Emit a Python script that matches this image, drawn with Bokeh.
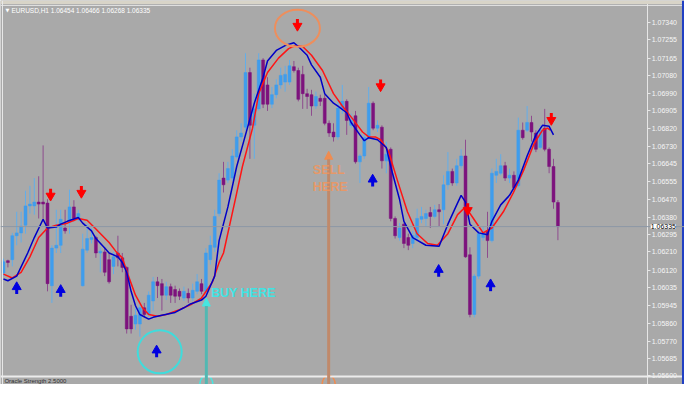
from bokeh.plotting import figure
from bokeh.models import (Range1d, FixedTicker, NumeralTickFormatter, Span, Label,
                          Arrow, NormalHead, ColumnDataSource, BoxAnnotation)
from bokeh.embed import file_html
from bokeh.resources import INLINE

# ---------------- data (EURUSD H1) ----------------
opens = [1.06106,1.06167,1.06172,1.06290,1.06304,1.06342,1.06437,1.06437,1.06456,1.06456,
         1.06451,1.06044,1.06229,1.06243,1.06328,1.06361,1.06432,1.06375,1.06044,1.06219,
         1.06271,1.06281,1.06205,1.06210,1.06172,1.06139,1.06205,1.06181,1.06134,1.05893,
         1.05855,1.05855,1.05935,1.05902,1.05969,1.06063,1.06054,1.05997,1.06039,1.06025,
         1.06016,1.05983,1.06006,1.05983,1.06016,1.06054,1.06016,1.06172,1.06233,1.06399,
         1.06574,1.06564,1.06574,1.06678,1.06777,1.06825,1.07094,1.06834,1.06915,1.07156,
         1.07033,1.06938,1.06985,1.07033,1.07047,1.07047,1.07123,1.07104,1.07085,1.06990,
         1.06985,1.06929,1.06967,1.06967,1.06844,1.06801,1.06777,1.06915,1.06952,1.06834,
         1.06881,1.06654,1.06683,1.06773,1.06943,1.06820,1.06825,1.06659,1.06716,1.06375,
         1.06281,1.06347,1.06281,1.06252,1.06281,1.06371,1.06375,1.06404,1.06385,1.06418,
         1.06418,1.06541,1.06607,1.06550,1.06635,1.06683,1.06196,1.05902,1.06091,1.06281,
         1.06314,1.06266,1.06588,1.06598,1.06635,1.06574,1.06588,1.06536,1.06810,1.06810,
         1.06848,1.06796,1.06725,1.06820,1.06716,1.06631,1.06454]
highs = [1.06177,1.06172,1.06304,1.06408,1.06408,1.06512,1.06536,1.06574,1.06583,1.06735,
         1.06470,1.06243,1.06418,1.06418,1.06418,1.06517,1.06465,1.06418,1.06300,1.06347,
         1.06328,1.06290,1.06233,1.06233,1.06205,1.06210,1.06290,1.06205,1.06139,1.05950,
         1.05935,1.05950,1.05959,1.06016,1.06087,1.06087,1.06077,1.06063,1.06054,1.06044,
         1.06030,1.06039,1.06030,1.06054,1.06101,1.06077,1.06229,1.06290,1.06418,1.06598,
         1.06654,1.06654,1.06716,1.06810,1.06844,1.07189,1.07118,1.06990,1.07189,1.07165,
         1.07071,1.07023,1.07061,1.07118,1.07127,1.07156,1.07151,1.07118,1.07127,1.07014,
         1.07009,1.07000,1.06985,1.06985,1.06858,1.06844,1.06952,1.07033,1.06962,1.06891,
         1.06905,1.06692,1.06796,1.07023,1.06952,1.06858,1.06834,1.06754,1.06725,1.06385,
         1.06352,1.06352,1.06300,1.06314,1.06423,1.06432,1.06418,1.06432,1.06442,1.06446,
         1.06588,1.06702,1.06621,1.06669,1.06716,1.06763,1.06233,1.06101,1.06314,1.06337,
         1.06408,1.06621,1.06669,1.06692,1.06654,1.06621,1.06607,1.06872,1.06848,1.06929,
         1.06881,1.06810,1.06834,1.06915,1.06725,1.06669,1.06466]
lows = [1.06091,1.06134,1.06139,1.06243,1.06257,1.06300,1.06399,1.06394,1.06375,1.06361,
        1.06016,1.05959,1.06205,1.06205,1.06300,1.06300,1.06361,1.06361,1.06039,1.06205,
        1.06252,1.06181,1.06110,1.06091,1.06054,1.06101,1.06139,1.06110,1.05808,1.05808,
        1.05827,1.05793,1.05888,1.05888,1.05921,1.05983,1.05921,1.05973,1.05959,1.05959,
        1.05973,1.05969,1.05959,1.05969,1.06002,1.06002,1.06006,1.06148,1.06210,1.06385,
        1.06503,1.06550,1.06560,1.06669,1.06754,1.06810,1.06669,1.06669,1.06905,1.06919,
        1.06905,1.06919,1.06967,1.07014,1.07000,1.07033,1.07094,1.06952,1.06915,1.06915,
        1.06881,1.06915,1.06929,1.06834,1.06777,1.06754,1.06763,1.06891,1.06787,1.06820,
        1.06645,1.06550,1.06669,1.06763,1.06810,1.06801,1.06621,1.06598,1.06361,1.06276,
        1.06266,1.06229,1.06219,1.06229,1.06271,1.06352,1.06337,1.06328,1.06375,1.06337,
        1.06347,1.06517,1.06536,1.06536,1.06621,1.06181,1.05888,1.05888,1.06077,1.06266,
        1.06181,1.06257,1.06550,1.06588,1.06560,1.06550,1.06517,1.06527,1.06763,1.06801,
        1.06754,1.06702,1.06716,1.06706,1.06598,1.06423,1.06268]
closes = [1.06162,1.06158,1.06290,1.06304,1.06337,1.06437,1.06446,1.06456,1.06446,1.06446,
          1.06054,1.06229,1.06243,1.06371,1.06314,1.06432,1.06375,1.06399,1.06224,1.06276,
          1.06281,1.06205,1.06214,1.06110,1.06063,1.06186,1.06181,1.06134,1.05831,1.05831,
          1.05898,1.05935,1.05902,1.05997,1.06063,1.06044,1.05997,1.06039,1.05997,1.05992,
          1.05992,1.06016,1.05983,1.06021,1.06063,1.06016,1.06205,1.06243,1.06385,1.06564,
          1.06541,1.06621,1.06683,1.06777,1.06796,1.07094,1.06834,1.06915,1.07156,1.06938,
          1.06938,1.06985,1.07033,1.07080,1.07085,1.07127,1.07104,1.06962,1.06990,1.06976,
          1.06929,1.06976,1.06952,1.06844,1.06796,1.06777,1.06919,1.06952,1.06858,1.06858,
          1.06654,1.06683,1.06773,1.06943,1.06820,1.06834,1.06659,1.06692,1.06375,1.06290,
          1.06328,1.06252,1.06243,1.06290,1.06375,1.06385,1.06399,1.06385,1.06418,1.06408,
          1.06541,1.06607,1.06550,1.06635,1.06683,1.06186,1.05902,1.06091,1.06300,1.06304,
          1.06266,1.06598,1.06607,1.06635,1.06574,1.06588,1.06527,1.06810,1.06773,1.06848,
          1.06801,1.06716,1.06810,1.06716,1.06631,1.06456,1.06335]

# fast (blue) and slow (red) moving averages, sampled at bar positions
blue_x = [0,1,3,5.5,7,9,10,12,13,14.5,17,18,20,21,23,24,26,27,28,29,30,31,33,34,36,39,41,42.5,45,46,
          48,49,51,53,55,57,59,60,62,64,66,67,69,70,72,73,75,76,78,79,81,82,83,85,87,88,90,91,93,96,
          99,101,103,104,105,106,108,110,111,113,115,117,119,121,122.5,124,125]
blue_v = [1.06077,1.06068,1.06091,1.06205,1.06281,1.06371,1.06328,1.06333,1.06347,1.06361,
          1.06380,1.06352,1.06314,1.06276,1.06229,1.06205,1.06186,1.06158,1.06110,1.06016,
          1.05945,1.05902,1.05879,1.05888,1.05898,1.05912,1.05935,1.05954,1.05973,1.05992,
          1.06091,1.06266,1.06432,1.06631,1.06787,1.06943,1.07071,1.07151,1.07203,1.07227,
          1.07241,1.07222,1.07179,1.07132,1.07071,1.06990,1.06943,1.06929,1.06896,1.06848,
          1.06787,1.06758,1.06773,1.06763,1.06725,1.06631,1.06470,1.06361,1.06281,1.06243,
          1.06238,1.06347,1.06442,1.06489,1.06456,1.06347,1.06304,1.06295,1.06361,1.06442,
          1.06489,1.06564,1.06683,1.06787,1.06834,1.06829,1.06787]
red_x = [0,2,4,6,8,10,12,14.5,17,19,21,24,25.5,27,28.4,30,31.6,33,35,37,40,42.5,45,47.5,49,50,
         52.7,54.3,56.6,58,60,62.5,64.8,66.4,68,70,72.5,75,77,79.3,81.6,83,84.5,85.7,87.5,89.5,
         91.8,94,96.4,98.6,101,103.2,105,106.8,109,111,113.6,115.9,118.2,120.5,122.5,123.6,124.3]
red_v = [1.06101,1.06082,1.06110,1.06186,1.06281,1.06328,1.06342,1.06352,1.06375,1.06366,
         1.06323,1.06257,1.06214,1.06181,1.06091,1.05997,1.05935,1.05902,1.05893,1.05902,
         1.05926,1.05950,1.05983,1.06063,1.06158,1.06205,1.06470,1.06631,1.06820,1.06990,
         1.07094,1.07165,1.07212,1.07227,1.07222,1.07179,1.07104,1.06990,1.06929,1.06867,
         1.06801,1.06777,1.06777,1.06763,1.06706,1.06564,1.06408,1.06300,1.06252,1.06243,
         1.06300,1.06394,1.06432,1.06375,1.06304,1.06328,1.06408,1.06503,1.06612,1.06740,
         1.06810,1.06820,1.06810]

# signal arrows
down_x = [10.7, 17.7, 66.8, 85.7, 105.5, 124.5]
down_y = [1.06494, 1.06508, 1.07331, 1.07033, 1.06423, 1.06867]
up_x = [3.0, 13.0, 34.8, 83.9, 98.9, 110.7]
up_y = [1.06030, 1.06016, 1.05718, 1.06560, 1.06115, 1.06044]

price_ticks = [1.07340, 1.07255, 1.07165, 1.07080, 1.06990, 1.06905, 1.06820, 1.06730,
               1.06645, 1.06555, 1.06470, 1.06380, 1.06295, 1.06210, 1.06120, 1.06035,
               1.05945, 1.05860, 1.05770, 1.05685, 1.05600]
last_price = 1.06335
header = "EURUSD,H1  1.06454 1.06466 1.06268 1.06335"
indicator_name = "Oracle Strength 2.5000"

# ---------------- figure ----------------
BG = "#a9a9a9"
Y0, Y1 = 1.05557, 1.07449
X0, X1 = -0.682, 154.77
FH, FW = 384, 684
AXIS_AT = 146.4          # bar position of the price scale line
p = figure(x_range=Range1d(X0, X1), y_range=Range1d(Y0, Y1),
           frame_width=FW, frame_height=FH,
           x_axis_location=None, y_axis_location="right",
           toolbar_location=None, output_backend="svg",
           min_border_left=0, min_border_top=0, min_border_bottom=0, min_border_right=0,
           background_fill_color=BG, border_fill_color=BG, outline_line_color=None)
p.grid.visible = False

ax = p.yaxis[0]
ax.fixed_location = AXIS_AT
ax.ticker = FixedTicker(ticks=price_ticks)
ax.formatter = NumeralTickFormatter(format="0.00000")
ax.major_label_text_font = "Liberation Sans"
ax.major_label_text_font_size = "7px"
ax.major_label_text_color = "#f6f6f6"
ax.axis_line_color = "#e6e6e6"
ax.major_tick_line_color = "#e6e6e6"
ax.major_tick_in = 0
ax.major_tick_out = 3
ax.minor_tick_line_color = None
ax.major_label_standoff = 1

# window chrome: toolbar strip, chart borders, indicator separator, right edge
p.add_layout(BoxAnnotation(bottom=1.07432, fill_color="#d8d4c8", fill_alpha=1, line_color=None))
p.add_layout(Span(location=1.07425, dimension="width", line_color="#e8e8e8", line_width=1))
p.add_layout(Span(location=-0.23, dimension="height", line_color="#e8e8e8", line_width=1))
p.add_layout(Span(location=1.05597, dimension="width", line_color="#ececec", line_width=2))
p.add_layout(BoxAnnotation(left=154.2, fill_color="#2140c4", fill_alpha=1, line_color=None))

# current price line
p.add_layout(Span(location=last_price, dimension="width", line_color="#8d98a6", line_width=1))

# candles
idx = list(range(len(opens)))
bull = [c >= o for o, c in zip(opens, closes)]
body_col = ["#3f9ded" if b else "#7d127d" for b in bull]
wick_col = ["#62aeea" if b else "#8e4c8e" for b in bull]
src = ColumnDataSource(dict(
    x=idx, high=highs, low=lows,
    top=[max(o, c) for o, c in zip(opens, closes)],
    bottom=[min(o, c) for o, c in zip(opens, closes)],
    body=body_col, wick=wick_col))
p.segment(x0="x", y0="high", x1="x", y1="low", source=src, line_color="wick", line_width=1)
p.vbar(x="x", top="top", bottom="bottom", width=0.66, source=src,
       fill_color="body", line_color="body", line_width=0.5)

# moving averages
p.line(red_x, red_v, line_color="#ff1414", line_width=1.5)
p.line(blue_x, blue_v, line_color="#0000c8", line_width=1.5)

# signal arrows (shaft + head)
ppx = (Y1 - Y0) / FH  # price per screen pixel
p.rect(x=down_x, y=[v + 2.5 * ppx for v in down_y], width=3, height=6,
       width_units="screen", height_units="screen", fill_color="#ff0000", line_color=None)
p.scatter(x=down_x, y=[v - 1.5 * ppx for v in down_y], marker="inverted_triangle", size=9,
          fill_color="#ff0000", line_color="#ff0000")
p.rect(x=up_x, y=[v - 2.5 * ppx for v in up_y], width=3, height=6,
       width_units="screen", height_units="screen", fill_color="#0000e0", line_color=None)
p.scatter(x=up_x, y=[v + 1.5 * ppx for v in up_y], marker="triangle", size=9,
          fill_color="#0000e0", line_color="#0000e0")

# circles
p.ellipse(x=[66.8], y=[1.07312], width=[45], height=[37], width_units="screen",
          height_units="screen", fill_color=None, line_color="#ee8e5c", line_width=2)
p.ellipse(x=[35.5], y=[1.05718], width=[44], height=[43], width_units="screen",
          height_units="screen", fill_color=None, line_color="#3fdcdc", line_width=2)

# buy / sell vertical arrows
p.add_layout(Arrow(end=NormalHead(size=8, fill_color="#46e6e0", line_color="#46e6e0"),
                   x_start=46.1, y_start=1.0550, x_end=46.1, y_end=1.05983,
                   line_color="#52b8b2", line_width=3))
p.add_layout(Arrow(end=NormalHead(size=8, fill_color="#f08c50", line_color="#f08c50"),
                   x_start=73.9, y_start=1.0550, x_end=73.9, y_end=1.06706,
                   line_color="#c0896a", line_width=3))

p.add_layout(Label(x=47.2, y=1.06006, text="BUY HERE", text_color="#40e4e4",
                   text_font="Liberation Sans", text_font_style="bold", text_font_size="12.5px",
                   text_baseline="middle"))
for word, wy in (("SELL", 1.06612), ("HERE", 1.06531)):
    p.add_layout(Label(x=70.3, y=wy, text=word, text_color="#f2955c", text_alpha=0.85,
                       text_font="Liberation Sans", text_font_style="bold",
                       text_font_size="12.5px", text_baseline="middle"))

# caps of the vertical arrows in the indicator window
p.ellipse(x=[46.1, 73.9], y=[Y0, Y0], width=[13, 13], height=[18, 18],
          width_units="screen", height_units="screen", fill_color=None,
          line_color=["#46e6e0", "#f08c50"], line_width=1.5)

# texts
p.add_layout(Label(x=0.45, y=1.07402, text="▼", text_font="DejaVu Sans", text_font_size="5px",
                   text_color="#ffffff", text_baseline="middle"))
p.add_layout(Label(x=1.8, y=1.07402, text=header, text_font="Liberation Sans",
                   text_font_size="6.5px", text_color="#ffffff", text_baseline="middle"))
p.add_layout(Label(x=0.2, y=1.05576, text=indicator_name, text_font="Liberation Sans",
                   text_font_size="6px", text_color="#303030", text_baseline="middle"))
p.add_layout(Label(x=AXIS_AT, y=last_price, x_offset=3, text="1.06335",
                   text_font="Liberation Sans", text_font_size="7px", text_color="#000000",
                   text_baseline="middle", background_fill_color="#ffffff"))

open("out.html", "w").write(file_html(p, INLINE))
